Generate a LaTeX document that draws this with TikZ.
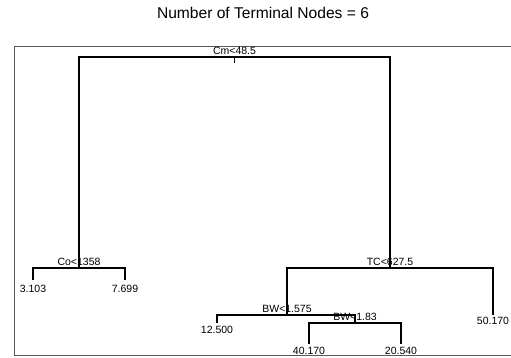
\documentclass[tikz,border=0pt]{standalone}
\usepackage{fontspec}
\setmainfont{Liberation Sans}
\usepackage{tikz}
\usetikzlibrary{positioning}

\begin{document}
\begin{tikzpicture}[x=1pt,y=-1pt,line cap=rect,
  branch/.style={draw=black,line width=1.3pt},
  split label/.style={inner sep=0pt,font=\fontsize{10.5}{11}\selectfont},
  leaf label/.style={inner sep=0pt,font=\fontsize{10.5}{11}\selectfont}]

  \useasboundingbox (0,0) rectangle (511,358);

  % plot frame (right side falls outside the picture)
  \draw[draw=black!65,line width=0.9pt,line cap=butt] (512,46) -- (14.3,46) -- (14.3,355.7) -- (512,355.7);

  \node[font=\fontsize{15.6}{17}\selectfont,inner sep=0pt] (title) at (263,13) {Number of Terminal Nodes = 6};

  % split points
  \coordinate (cm) at (234.5,57);
  \coordinate (co) at (79,268);
  \coordinate (tc) at (390,268);
  \coordinate (bwa) at (287,315);
  \coordinate (bwb) at (355,323);

  % leaves
  \coordinate (l1) at (33,279);
  \coordinate (l2) at (125,279);
  \coordinate (l3) at (217,322.5);
  \coordinate (l4) at (309,343);
  \coordinate (l5) at (401,343);
  \coordinate (l6) at (493,314);

  \draw[branch] (co) |- (cm) -| (tc);
  \draw[line width=0.6pt] (cm) -- ++(0,6);
  \draw[branch] (l1) |- (co) -| (l2);
  \draw[branch] (bwa) |- (tc) -| (l6);
  \draw[branch] (l3) |- (bwa) -| (bwb);
  \draw[branch] (l4) |- (bwb) -| (l5);

  \node[split label] (cmlab) [above=2.5pt of cm] {Cm<48.5};
  \node[split label] (colab) [above=2.5pt of co] {Co<1358};
  \node[split label] (tclab) [above=2.5pt of tc] {TC<627.5};
  \node[split label] (bwalab) [above=2.5pt of bwa] {BW<1.575};
  \node[split label] (bwblab) [above=2.5pt of bwb] {BW<1.83};

  \node[leaf label] (v1) [below=6pt of l1] {3.103};
  \node[leaf label] (v2) [below=6pt of l2] {7.699};
  \node[leaf label] (v3) [below=3pt of l3] {12.500};
  \node[leaf label] (v4) [below=3.5pt of l4] {40.170};
  \node[leaf label] (v5) [below=3.5pt of l5] {20.540};
  \node[leaf label] (v6) [below=3pt of l6] {50.170};
\end{tikzpicture}
\end{document}
